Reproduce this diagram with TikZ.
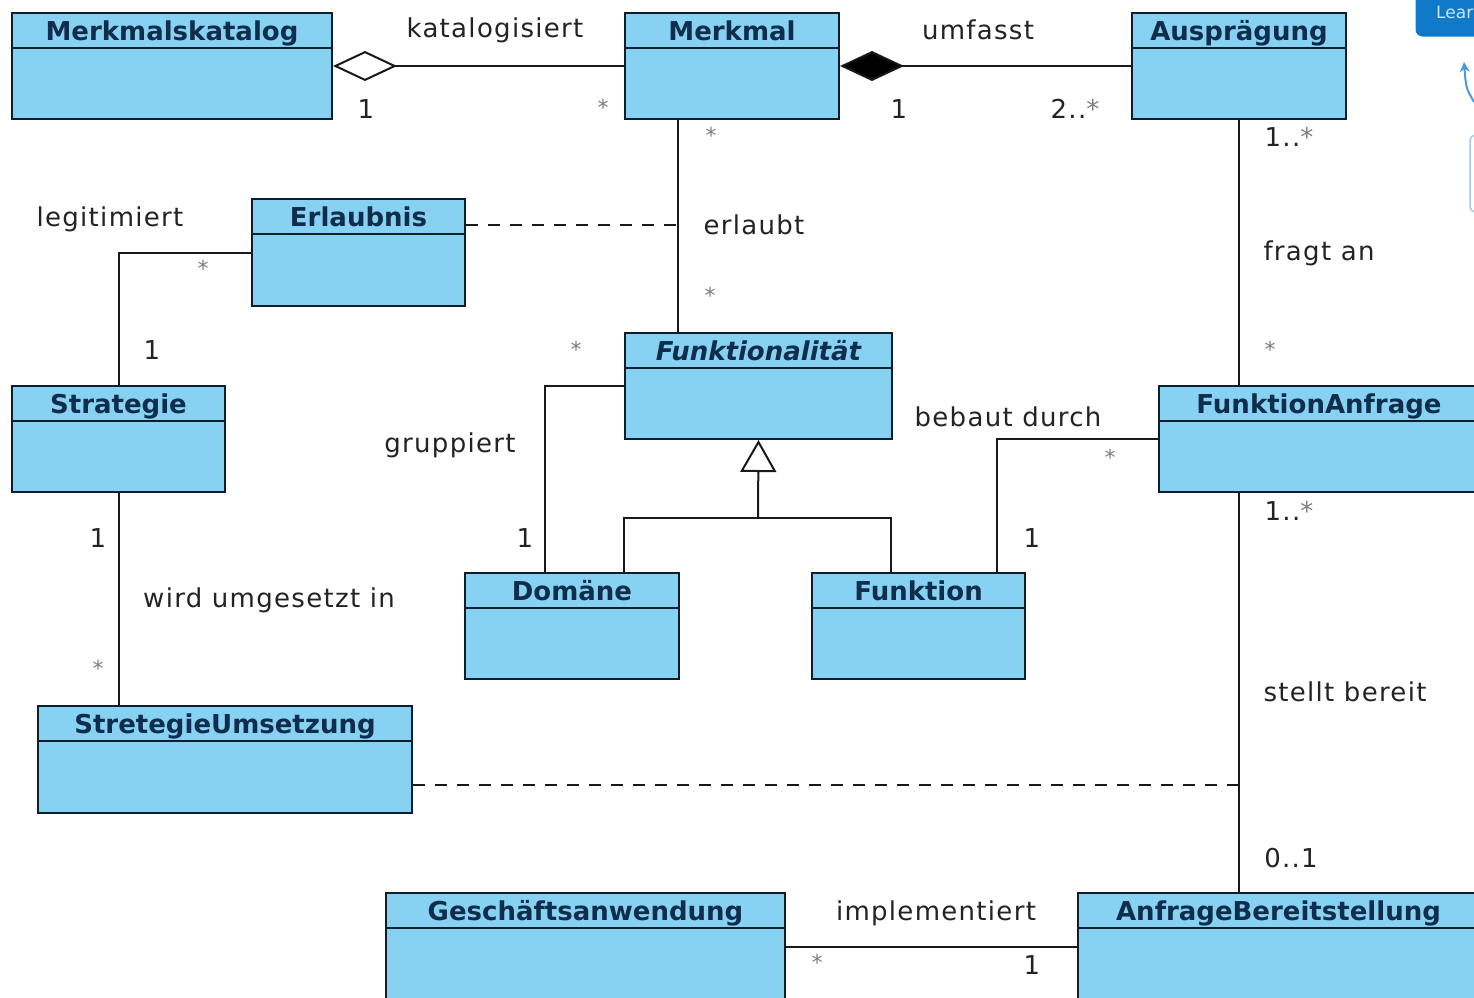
\documentclass[tikz,border=0pt]{standalone}
\usepackage{fontspec}
\setmainfont{DejaVu Sans}
\newfontfamily\labfont[LetterSpace=5]{DejaVu Sans}
\usetikzlibrary{arrows.meta,calc}
\definecolor{classfill}{RGB}{135,209,242}
\definecolor{titlecol}{RGB}{16,45,75}
\definecolor{bordercol}{RGB}{15,30,45}
\definecolor{labcol}{RGB}{35,35,35}
\definecolor{starcol}{RGB}{125,125,125}
\definecolor{btnblue}{RGB}{16,122,200}
\newcommand\mkclass[6]{%
  \node[classbox, minimum width={(#4-#2)*1pt}, minimum height={(#5-#3)*1pt}] (#1) at (#2,#3) {};
  \draw[divider] ([yshift=-36pt]#1.north west) -- ([yshift=-36pt]#1.north east);
  \node[classtitle] (#1-t) at ([yshift=-28pt]#1.north) {#6};
}
\begin{document}
\begin{tikzpicture}[x=1pt,y=-1pt,
  classbox/.style={draw=bordercol, line width=2pt, fill=classfill, inner sep=0pt, anchor=north west},
  divider/.style={draw=bordercol, line width=2pt},
  classtitle/.style={font=\fontsize{26}{30}\selectfont\bfseries, text=titlecol, anchor=base, inner sep=0pt},
  assoc/.style={draw=black!90, line width=2pt},
  dashline/.style={assoc, dash pattern=on 12pt off 10pt},
  lab/.style={font=\labfont\fontsize{26}{30}\selectfont, text=labcol, anchor=base, inner sep=0pt},
  star/.style={font=\fontsize{22}{26}\selectfont, text=starcol, inner sep=0pt},
]
\useasboundingbox (0,0) rectangle (1474,997);
\clip (0,0) rectangle (1474,997);
\fill[white] (0,0) rectangle (1474,997);

% classes
\mkclass{katalog}{11}{12}{331}{118}{Merkmalskatalog}
\mkclass{merkmal}{624}{12}{838}{118}{Merkmal}
\mkclass{auspr}{1131}{12}{1345}{118}{Ausprägung}
\mkclass{erlaubnis}{251}{198}{464}{305}{Erlaubnis}
\mkclass{strategie}{11}{385}{224}{491}{Strategie}
\mkclass{funkt}{624}{332}{891}{438}{\itshape Funktionalität}
\mkclass{anfrage}{1158}{385}{1478}{491}{FunktionAnfrage}
\mkclass{domaene}{464}{572}{678}{678}{Domäne}
\mkclass{funktion}{811}{572}{1024}{678}{Funktion}
\mkclass{umsetzung}{37}{705}{411}{812}{StretegieUmsetzung}
\mkclass{geschaeft}{385}{892}{784}{1000}{Geschäftsanwendung}
\mkclass{bereit}{1077}{892}{1478}{1000}{AnfrageBereitstellung}

% helper coordinates
\coordinate (mx) at (678,0);
\coordinate (erlj) at (678,225);
\coordinate (dx) at (545,0);
\coordinate (gj) at (758,518);
\coordinate (dl) at (624,0);
\coordinate (fl) at (891,0);
\coordinate (fx) at (997,0);
\coordinate (uj) at (1238,785);

% connectors
\draw[assoc, {Diamond[open,fill=white,length=64pt,width=30pt]}-] (katalog.east) -- (merkmal.west);
\draw[assoc, {Diamond[fill=black,length=64pt,width=30pt]}-] (merkmal.east) -- (auspr.west);
\draw[assoc] (merkmal.south -| mx) -- (funkt.north -| mx);
\draw[dashline] (erlaubnis.east |- erlj) -- (erlj);
\draw[assoc] (erlaubnis.west) -| (strategie.north);
\draw[assoc] (strategie.south) -- (umsetzung.north -| strategie.south);
\draw[assoc] (funkt.west) -| (domaene.north -| dx);
\draw[assoc, -{Triangle[open,fill=white,length=32pt,width=36pt]}] (gj) -- (funkt.south);
\draw[assoc] (domaene.north -| dl) -- (dl |- gj) -- (fl |- gj) -- (funktion.north -| fl);
\draw[assoc] (funktion.north -| fx) |- (anfrage.west);
\draw[assoc] (auspr.south) -- (anfrage.north -| auspr.south);
\draw[assoc] (anfrage.south -| auspr.south) -- (bereit.north -| auspr.south);
\draw[dashline] (umsetzung.east |- uj) -- (uj);
\draw[assoc] (geschaeft.east) -- (bereit.west);

% association labels
\node[lab] (l-kat) at (495,37) {katalogisiert};
\node[lab] (l-umf) at (978,39) {umfasst};
\node[lab] (l-erl) at (754,234) {erlaubt};
\node[lab] (l-leg) at (110,226) {legitimiert};
\node[lab] (l-gru) at (450,452) {gruppiert};
\node[lab] (l-beb) at (1008,426) {bebaut durch};
\node[lab] (l-fra) at (1319,260) {fragt an};
\node[lab] (l-ste) at (1345,701) {stellt bereit};
\node[lab] (l-wir) at (269,607) {wird umgesetzt in};
\node[lab] (l-imp) at (936,920) {implementiert};

% multiplicities
\node[lab] (m1) at (366,118) {1};
\node[star] (m2) at (603,107) {*};
\node[lab] (m3) at (899,118) {1};
\node[lab] (m4) at (1075,118) {2..\textcolor{starcol}{*}};
\node[star] (m5) at (711,135) {*};
\node[star] (m6) at (710,295) {*};
\node[star] (m7) at (203,268) {*};
\node[lab] (m8) at (152,359) {1};
\node[star] (m9) at (576,349) {*};
\node[lab] (m10) at (525,547) {1};
\node[star] (m11) at (1110,457) {*};
\node[lab] (m12) at (1032,547) {1};
\node[lab] (m13) at (1289,146) {1..\textcolor{starcol}{*}};
\node[star] (m14) at (1270,349) {*};
\node[lab] (m15) at (1289,520) {1..\textcolor{starcol}{*}};
\node[lab] (m16) at (1291,867) {0..1};
\node[lab] (m17) at (98,547) {1};
\node[star] (m18) at (98,668) {*};
\node[star] (m19) at (817,962) {*};
\node[lab] (m20) at (1032,974) {1};

% clipped button at the top right
\draw[white, line width=3pt, fill=btnblue, rounded corners=8pt] (1414,-15) rectangle (1510,38);
\node[text=white!80!btnblue, font=\fontsize{17}{20}\selectfont, anchor=base west, inner sep=0pt] (lear) at (1436,18) {Lear};
\coordinate (arrstart) at (1474,102);
\coordinate (arrend) at (1464,62);
\draw[btnblue!75, line width=2pt, -{Stealth[length=10pt,width=10pt]}] (arrstart) .. controls (1466,88) .. (arrend);
\draw[btnblue!40, line width=1.5pt, rounded corners=6pt] (1470,135) rectangle (1500,212);
\end{tikzpicture}
\end{document}
